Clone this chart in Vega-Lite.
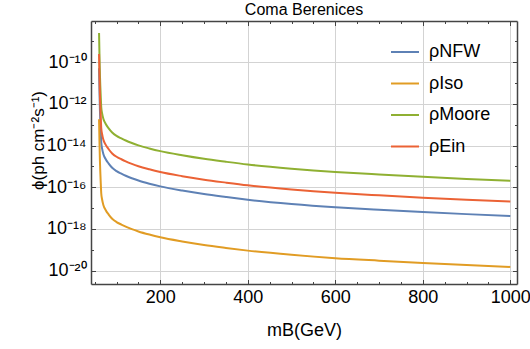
{
  "$schema": "https://vega.github.io/schema/vega-lite/v6.json",
  "width": 426,
  "height": 263,
  "autosize": {"type": "none"},
  "padding": {"left": 91, "top": 21, "right": 13, "bottom": 65},
  "background": "white",
  "title": {"text": "Coma Berenices", "fontSize": 16, "fontWeight": "normal", "font": "Liberation Sans", "color": "black", "offset": 3, "anchor": "middle"},
  "config": {
    "view": {"stroke": null},
    "axis": {"labelFont": "Liberation Sans", "titleFont": "Liberation Sans", "labelColor": "black", "titleColor": "black", "domainColor": "#444", "domainWidth": 1.5, "tickColor": "#444", "tickWidth": 1, "gridColor": "#d3d3d3", "gridWidth": 1}
  },
  "data": {"values": [
    {"profile": "ρNFW", "m": 60, "phi": 5.01e-11},
    {"profile": "ρNFW", "m": 61, "phi": 3.98e-12},
    {"profile": "ρNFW", "m": 62, "phi": 5.01e-13},
    {"profile": "ρNFW", "m": 63, "phi": 1.26e-13},
    {"profile": "ρNFW", "m": 64, "phi": 3.98e-14},
    {"profile": "ρNFW", "m": 65, "phi": 1.41e-14},
    {"profile": "ρNFW", "m": 67, "phi": 7.08e-15},
    {"profile": "ρNFW", "m": 70, "phi": 3.80e-15},
    {"profile": "ρNFW", "m": 75, "phi": 2.24e-15},
    {"profile": "ρNFW", "m": 82, "phi": 1.35e-15},
    {"profile": "ρNFW", "m": 90, "phi": 8.51e-16},
    {"profile": "ρNFW", "m": 100, "phi": 5.89e-16},
    {"profile": "ρNFW", "m": 111, "phi": 4.47e-16},
    {"profile": "ρNFW", "m": 121, "phi": 3.55e-16},
    {"profile": "ρNFW", "m": 135, "phi": 2.69e-16},
    {"profile": "ρNFW", "m": 150, "phi": 2.09e-16},
    {"profile": "ρNFW", "m": 175, "phi": 1.48e-16},
    {"profile": "ρNFW", "m": 200, "phi": 1.10e-16},
    {"profile": "ρNFW", "m": 250, "phi": 6.92e-17},
    {"profile": "ρNFW", "m": 300, "phi": 4.68e-17},
    {"profile": "ρNFW", "m": 350, "phi": 3.39e-17},
    {"profile": "ρNFW", "m": 400, "phi": 2.51e-17},
    {"profile": "ρNFW", "m": 500, "phi": 1.58e-17},
    {"profile": "ρNFW", "m": 600, "phi": 1.10e-17},
    {"profile": "ρNFW", "m": 700, "phi": 8.32e-18},
    {"profile": "ρNFW", "m": 800, "phi": 6.46e-18},
    {"profile": "ρNFW", "m": 900, "phi": 5.13e-18},
    {"profile": "ρNFW", "m": 1000, "phi": 4.17e-18},
    {"profile": "ρIso", "m": 60, "phi": 1.82e-13},
    {"profile": "ρIso", "m": 61, "phi": 1.45e-14},
    {"profile": "ρIso", "m": 62, "phi": 1.82e-15},
    {"profile": "ρIso", "m": 63, "phi": 4.57e-16},
    {"profile": "ρIso", "m": 64, "phi": 1.45e-16},
    {"profile": "ρIso", "m": 65, "phi": 5.13e-17},
    {"profile": "ρIso", "m": 67, "phi": 2.57e-17},
    {"profile": "ρIso", "m": 70, "phi": 1.38e-17},
    {"profile": "ρIso", "m": 75, "phi": 8.13e-18},
    {"profile": "ρIso", "m": 82, "phi": 4.90e-18},
    {"profile": "ρIso", "m": 90, "phi": 3.09e-18},
    {"profile": "ρIso", "m": 100, "phi": 2.14e-18},
    {"profile": "ρIso", "m": 111, "phi": 1.62e-18},
    {"profile": "ρIso", "m": 121, "phi": 1.29e-18},
    {"profile": "ρIso", "m": 135, "phi": 9.77e-19},
    {"profile": "ρIso", "m": 150, "phi": 7.59e-19},
    {"profile": "ρIso", "m": 175, "phi": 5.37e-19},
    {"profile": "ρIso", "m": 200, "phi": 3.98e-19},
    {"profile": "ρIso", "m": 250, "phi": 2.51e-19},
    {"profile": "ρIso", "m": 300, "phi": 1.70e-19},
    {"profile": "ρIso", "m": 350, "phi": 1.23e-19},
    {"profile": "ρIso", "m": 400, "phi": 9.12e-20},
    {"profile": "ρIso", "m": 500, "phi": 5.75e-20},
    {"profile": "ρIso", "m": 600, "phi": 3.98e-20},
    {"profile": "ρIso", "m": 700, "phi": 3.02e-20},
    {"profile": "ρIso", "m": 800, "phi": 2.34e-20},
    {"profile": "ρIso", "m": 900, "phi": 1.86e-20},
    {"profile": "ρIso", "m": 1000, "phi": 1.51e-20},
    {"profile": "ρMoore", "m": 60, "phi": 2.46e-9},
    {"profile": "ρMoore", "m": 61, "phi": 1.95e-10},
    {"profile": "ρMoore", "m": 62, "phi": 2.46e-11},
    {"profile": "ρMoore", "m": 63, "phi": 6.17e-12},
    {"profile": "ρMoore", "m": 64, "phi": 1.95e-12},
    {"profile": "ρMoore", "m": 65, "phi": 6.92e-13},
    {"profile": "ρMoore", "m": 67, "phi": 3.47e-13},
    {"profile": "ρMoore", "m": 70, "phi": 1.86e-13},
    {"profile": "ρMoore", "m": 75, "phi": 1.10e-13},
    {"profile": "ρMoore", "m": 82, "phi": 6.61e-14},
    {"profile": "ρMoore", "m": 90, "phi": 4.17e-14},
    {"profile": "ρMoore", "m": 100, "phi": 2.88e-14},
    {"profile": "ρMoore", "m": 111, "phi": 2.19e-14},
    {"profile": "ρMoore", "m": 121, "phi": 1.74e-14},
    {"profile": "ρMoore", "m": 135, "phi": 1.32e-14},
    {"profile": "ρMoore", "m": 150, "phi": 1.02e-14},
    {"profile": "ρMoore", "m": 175, "phi": 7.24e-15},
    {"profile": "ρMoore", "m": 200, "phi": 5.37e-15},
    {"profile": "ρMoore", "m": 250, "phi": 3.39e-15},
    {"profile": "ρMoore", "m": 300, "phi": 2.29e-15},
    {"profile": "ρMoore", "m": 350, "phi": 1.66e-15},
    {"profile": "ρMoore", "m": 400, "phi": 1.23e-15},
    {"profile": "ρMoore", "m": 500, "phi": 7.76e-16},
    {"profile": "ρMoore", "m": 600, "phi": 5.37e-16},
    {"profile": "ρMoore", "m": 700, "phi": 4.07e-16},
    {"profile": "ρMoore", "m": 800, "phi": 3.16e-16},
    {"profile": "ρMoore", "m": 900, "phi": 2.51e-16},
    {"profile": "ρMoore", "m": 1000, "phi": 2.04e-16},
    {"profile": "ρEin", "m": 60, "phi": 2.46e-10},
    {"profile": "ρEin", "m": 61, "phi": 1.95e-11},
    {"profile": "ρEin", "m": 62, "phi": 2.46e-12},
    {"profile": "ρEin", "m": 63, "phi": 6.17e-13},
    {"profile": "ρEin", "m": 64, "phi": 1.95e-13},
    {"profile": "ρEin", "m": 65, "phi": 6.92e-14},
    {"profile": "ρEin", "m": 67, "phi": 3.47e-14},
    {"profile": "ρEin", "m": 70, "phi": 1.86e-14},
    {"profile": "ρEin", "m": 75, "phi": 1.10e-14},
    {"profile": "ρEin", "m": 82, "phi": 6.61e-15},
    {"profile": "ρEin", "m": 90, "phi": 4.17e-15},
    {"profile": "ρEin", "m": 100, "phi": 2.88e-15},
    {"profile": "ρEin", "m": 111, "phi": 2.19e-15},
    {"profile": "ρEin", "m": 121, "phi": 1.74e-15},
    {"profile": "ρEin", "m": 135, "phi": 1.32e-15},
    {"profile": "ρEin", "m": 150, "phi": 1.02e-15},
    {"profile": "ρEin", "m": 175, "phi": 7.24e-16},
    {"profile": "ρEin", "m": 200, "phi": 5.37e-16},
    {"profile": "ρEin", "m": 250, "phi": 3.39e-16},
    {"profile": "ρEin", "m": 300, "phi": 2.29e-16},
    {"profile": "ρEin", "m": 350, "phi": 1.66e-16},
    {"profile": "ρEin", "m": 400, "phi": 1.23e-16},
    {"profile": "ρEin", "m": 500, "phi": 7.76e-17},
    {"profile": "ρEin", "m": 600, "phi": 5.37e-17},
    {"profile": "ρEin", "m": 700, "phi": 4.07e-17},
    {"profile": "ρEin", "m": 800, "phi": 3.16e-17},
    {"profile": "ρEin", "m": 900, "phi": 2.51e-17},
    {"profile": "ρEin", "m": 1000, "phi": 2.04e-17}
  ]},
  "resolve": {"axis": {"x": "independent", "y": "independent"}},
  "layer": [
    {
      "mark": {"type": "line", "strokeWidth": 2, "clip": true, "interpolate": "monotone"},
      "encoding": {
        "x": {"field": "m", "type": "quantitative",
          "scale": {"domain": [41.6, 1015.3], "nice": false, "zero": false},
          "axis": {"orient": "bottom", "values": [200, 400, 600, 800, 1000], "format": "d", "grid": true, "ticks": false, "labelFontSize": 18, "labelPadding": 4, "labelFlush": false, "title": "mB(GeV)", "titleFontSize": 18, "titleFontWeight": "normal", "titlePadding": 15}},
        "y": {"field": "phi", "type": "quantitative",
          "scale": {"type": "log", "domain": [2.29e-21, 9.33e-9], "nice": false},
          "axis": {"orient": "left", "values": [1e-20, 1e-18, 1e-16, 1e-14, 1e-12, 1e-10], "grid": true, "ticks": false, "labelFontSize": 18, "labelPadding": 5,
            "labelExpr": "'10' + replace(replace(replace(replace(replace(replace(replace('' + round(log(datum.value)/LN10), regexp('-','g'), '⁻'), regexp('0','g'), '⁰'), regexp('1','g'), '¹'), regexp('2','g'), '²'), regexp('4','g'), '⁴'), regexp('6','g'), '⁶'), regexp('8','g'), '⁸')",
            "title": "ϕ(ph cm⁻²s⁻¹)", "titleFontSize": 17, "titleFontWeight": "normal", "titlePadding": -1, "titleY": 119}},
        "color": {"field": "profile", "type": "nominal",
          "scale": {"domain": ["ρNFW", "ρIso", "ρMoore", "ρEin"], "range": ["#5E81B5", "#E19C24", "#8FB032", "#EB6235"]},
          "legend": {"title": null, "orient": "none", "legendX": 299, "legendY": 16, "symbolType": "stroke", "symbolSize": 784, "symbolStrokeWidth": 2, "labelFontSize": 18, "labelFont": "Liberation Sans", "labelColor": "black", "labelOffset": 9, "rowPadding": 7.5, "padding": 0}}
      }
    },
    {
      "mark": {"type": "point", "opacity": 0},
      "encoding": {
        "x": {"field": "m", "type": "quantitative", "axis": {"orient": "bottom", "values": [50, 100, 150, 250, 300, 350, 450, 500, 550, 650, 700, 750, 850, 900, 950], "labels": false, "grid": false, "domain": false, "tickSize": -2.5, "title": null}},
        "y": {"field": "phi", "type": "quantitative", "axis": {"orient": "left", "values": [1e-9, 1e-11, 1e-13, 1e-15, 1e-17, 1e-19], "labels": false, "grid": false, "domain": false, "tickSize": -2.5, "title": null}}
      }
    },
    {
      "mark": {"type": "point", "opacity": 0},
      "encoding": {
        "x": {"field": "m", "type": "quantitative", "axis": {"orient": "bottom", "values": [200, 400, 600, 800, 1000], "labels": false, "grid": false, "domain": false, "tickSize": -4.5, "title": null}},
        "y": {"field": "phi", "type": "quantitative", "axis": {"orient": "left", "values": [1e-20, 1e-18, 1e-16, 1e-14, 1e-12, 1e-10], "labels": false, "grid": false, "domain": false, "tickSize": -4.5, "title": null}}
      }
    },
    {
      "mark": {"type": "point", "opacity": 0},
      "encoding": {
        "x": {"field": "m", "type": "quantitative", "axis": {"orient": "top", "values": [50, 100, 150, 250, 300, 350, 450, 500, 550, 650, 700, 750, 850, 900, 950], "labels": false, "grid": false, "domain": true, "tickSize": -2.5, "title": null}},
        "y": {"field": "phi", "type": "quantitative", "axis": {"orient": "right", "values": [1e-9, 1e-11, 1e-13, 1e-15, 1e-17, 1e-19], "labels": false, "grid": false, "domain": true, "tickSize": -2.5, "title": null}}
      }
    },
    {
      "mark": {"type": "point", "opacity": 0},
      "encoding": {
        "x": {"field": "m", "type": "quantitative", "axis": {"orient": "top", "values": [200, 400, 600, 800, 1000], "labels": false, "grid": false, "domain": false, "tickSize": -4.5, "title": null}},
        "y": {"field": "phi", "type": "quantitative", "axis": {"orient": "right", "values": [1e-20, 1e-18, 1e-16, 1e-14, 1e-12, 1e-10], "labels": false, "grid": false, "domain": false, "tickSize": -4.5, "title": null}}
      }
    }
  ]
}
